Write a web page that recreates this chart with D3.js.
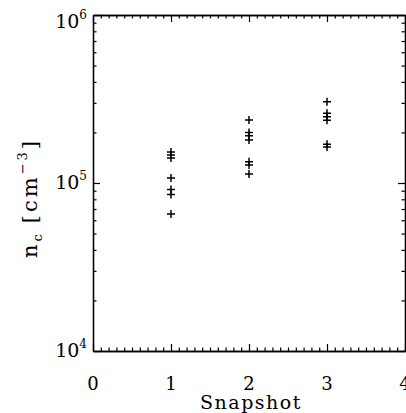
<!DOCTYPE html>
<html>
<head>
<meta charset="utf-8">
<script src="https://cdn.jsdelivr.net/npm/d3@7"></script>
<style>
html,body{margin:0;padding:0;background:#fff;}
svg{display:block;}
text{font-family:"DejaVu Serif",serif;fill:#000;}
</style>
</head>
<body>
<svg id="chart" width="406" height="413"></svg>
<script>
// Data
const snapshots = [1, 2, 3];
const snap1 = [1.53e5, 1.47e5, 1.41e5, 1.07e5, 9.15e4, 8.54e4, 6.54e4];
const snap2 = [2.37e5, 2.00e5, 1.91e5, 1.80e5, 1.34e5, 1.28e5, 1.13e5];
const snap3 = [3.05e5, 2.60e5, 2.48e5, 2.36e5, 1.70e5, 1.64e5];
const xTickLabels = ["0", "1", "2", "3", "4"];
const yTickExponents = ["4", "5", "6"];

const svg = d3.select("#chart");
const L = 93, R = 405, T = 15, B = 351;
const x = d3.scaleLinear().domain([0, 4]).range([L, R]);
const y = d3.scaleLog().domain([1e4, 1e6]).range([B, T]);

const majX = d3.range(0, 5);
const minX = d3.range(0, 41).map(d => d / 10).filter(d => Math.abs(d - Math.round(d)) > 1e-9);
const majY = [1e4, 1e5, 1e6];
const minY = [];
[1e4, 1e5].forEach(d => { for (let k = 2; k <= 9; k++) minY.push(k * d); });

function styleAxis(g) {
  g.selectAll("path.domain").attr("stroke", "#000").attr("stroke-width", 1.3);
  g.selectAll(".tick line").attr("stroke", "#000").attr("stroke-width", 1.2);
  g.selectAll(".tick text").remove();
}

// bottom
svg.append("g").attr("transform", `translate(0,${B})`)
  .call(d3.axisBottom(x).tickValues(minX).tickSizeInner(-3.5).tickSizeOuter(0).tickFormat(""))
  .call(styleAxis);
svg.append("g").attr("transform", `translate(0,${B})`)
  .call(d3.axisBottom(x).tickValues(majX).tickSizeInner(-7).tickSizeOuter(0))
  .call(styleAxis);
// top
svg.append("g").attr("transform", `translate(0,${T})`)
  .call(d3.axisTop(x).tickValues(minX).tickSizeInner(-3.5).tickSizeOuter(0).tickFormat(""))
  .call(styleAxis);
svg.append("g").attr("transform", `translate(0,${T})`)
  .call(d3.axisTop(x).tickValues(majX).tickSizeInner(-7).tickSizeOuter(0))
  .call(styleAxis);
// left
svg.append("g").attr("transform", `translate(${L},0)`)
  .call(d3.axisLeft(y).tickValues(minY).tickSizeInner(-3.5).tickSizeOuter(0).tickFormat(""))
  .call(styleAxis);
svg.append("g").attr("transform", `translate(${L},0)`)
  .call(d3.axisLeft(y).tickValues(majY).tickSizeInner(-7).tickSizeOuter(0))
  .call(styleAxis);
// right
svg.append("g").attr("transform", `translate(${R},0)`)
  .call(d3.axisRight(y).tickValues(minY).tickSizeInner(-3.5).tickSizeOuter(0).tickFormat(""))
  .call(styleAxis);
svg.append("g").attr("transform", `translate(${R},0)`)
  .call(d3.axisRight(y).tickValues(majY).tickSizeInner(-7).tickSizeOuter(0))
  .call(styleAxis);

// x tick labels
svg.append("g").selectAll("text").data(majX).join("text")
  .attr("x", d => x(d)).attr("y", B + 39)
  .attr("text-anchor", "middle").attr("font-size", 18)
  .text((d, i) => xTickLabels[i]);

// y tick labels
const yl = svg.append("g").selectAll("text").data(majY).join("text")
  .attr("x", L - 6).attr("y", d => y(d) + (d === 1e6 ? 13 : 6))
  .attr("text-anchor", "end").attr("font-size", 19);
yl.append("tspan").text("10");
yl.append("tspan").attr("font-size", 12).attr("dy", -9).text((d, i) => yTickExponents[i]);

// x title
svg.append("text").attr("x", (L + R) / 2 + 2).attr("y", 409)
  .attr("text-anchor", "middle").attr("font-size", 19).attr("letter-spacing", 1.5)
  .text("Snapshot");

// y title
const yt = svg.append("text")
  .attr("transform", `translate(37,${(T + B) / 2 + 15}) rotate(-90)`)
  .attr("text-anchor", "middle").attr("font-size", 21).attr("letter-spacing", 3);
yt.append("tspan").text("n");
yt.append("tspan").attr("font-size", 13).attr("dy", 5).text("c");
yt.append("tspan").attr("dy", -5).attr("dx", 8).text("[cm");
yt.append("tspan").attr("font-size", 13).attr("dy", -10).text("−3");
yt.append("tspan").attr("dy", 10).text("]");

// points
const pts = [];
[snap1, snap2, snap3].forEach((arr, i) => arr.forEach(v => pts.push({s: snapshots[i], v})));
const s = 4;
const pg = svg.append("g").attr("stroke", "#000").attr("stroke-width", 1.5);
pg.selectAll("path").data(pts).join("path")
  .attr("d", d => {
    const cx = x(d.s), cy = y(d.v);
    return `M${cx - s},${cy}H${cx + s}M${cx},${cy - s}V${cy + s}`;
  });
</script>
</body>
</html>
